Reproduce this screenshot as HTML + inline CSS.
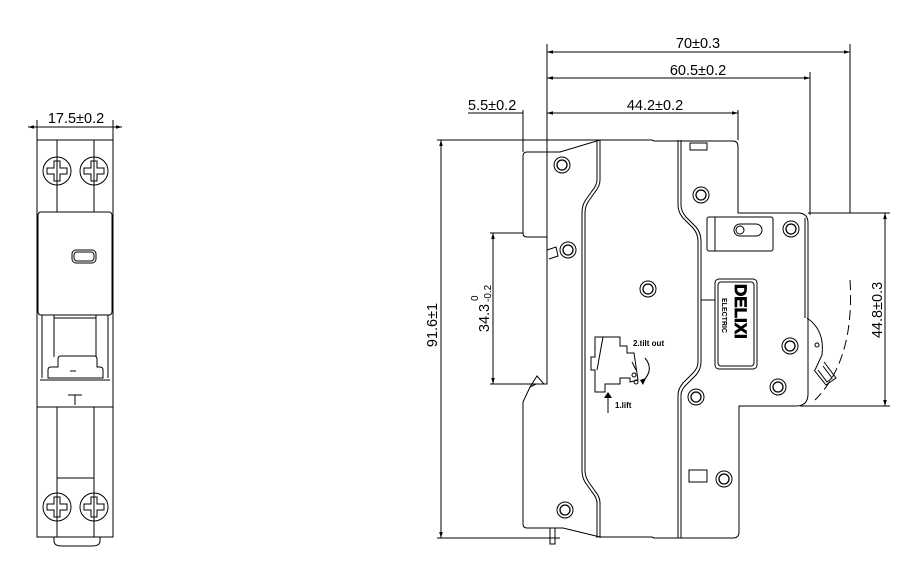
<!DOCTYPE html><html><head><style>body{margin:0;background:#fff}svg{display:block}text{font-family:"Liberation Sans",Arial,sans-serif;fill:#000}</style></head><body>
<svg width="919" height="572" viewBox="0 0 919 572" xmlns="http://www.w3.org/2000/svg">
<defs><marker id="a" viewBox="0 0 10 10" refX="10" refY="5" markerWidth="8" markerHeight="6" orient="auto-start-reverse"><path d="M0,2 L10,5 L0,8z" fill="#000"/></marker>
<g id="scr"><circle r="14" fill="none" stroke="#000" stroke-width="1"/><path d="M-3,-10 h6 v7 h7 v6 h-7 v7 h-6 v-7 h-7 v-6 h7z" fill="none" stroke="#000" stroke-width="1"/></g>
<g id="c"><circle r="8" fill="none" stroke="#000" stroke-width="1"/><circle r="5" fill="none" stroke="#000" stroke-width="1.3"/></g></defs>
<g fill="none" stroke="#000" stroke-width="1">
<line x1="37" y1="120" x2="37" y2="140"/><line x1="113" y1="120" x2="113" y2="140"/>
<line x1="28" y1="127" x2="122" y2="127" marker-start="url(#a)" marker-end="url(#a)"/>
<rect x="37" y="140" width="76" height="397"/>
<line x1="57" y1="140" x2="57" y2="212"/><line x1="94" y1="140" x2="94" y2="212"/>
<rect x="38" y="212" width="74" height="103" rx="3"/>
<rect x="72" y="250" width="24" height="13" rx="4"/><rect x="74" y="252" width="20" height="9" rx="3"/>
<line x1="42" y1="315" x2="42" y2="378"/><line x1="54" y1="315" x2="54" y2="357"/><line x1="96" y1="315" x2="96" y2="357"/><line x1="108" y1="315" x2="108" y2="378"/>
<line x1="54" y1="318" x2="96" y2="318"/>
<path d="M58,367 v-8 q0,-3 3,-3 h33 q3,0 3,3 v8 h3 q3,0 3,3 v8 h-55 v-8 q0,-3 3,-3z"/>
<line x1="70" y1="371" x2="76" y2="371"/>
<line x1="40" y1="380" x2="110" y2="380"/>
<path d="M68,395 h14 M75,395 v10"/>
<line x1="37" y1="407" x2="113" y2="407"/>
<line x1="57" y1="407" x2="57" y2="537"/><line x1="94" y1="407" x2="94" y2="537"/>
<line x1="57" y1="478" x2="94" y2="478"/>
<path d="M54,537 v4 q0,5 8,5 h30 q8,0 8,-5 v-4"/>
</g>
<use href="#scr" x="57" y="171"/><use href="#scr" x="94" y="171"/>
<use href="#scr" x="57" y="507"/><use href="#scr" x="94" y="507"/>
<text x="76" y="123" font-size="14.5" text-anchor="middle">17.5±0.2</text>
<g fill="none" stroke="#000" stroke-width="1">
<line x1="547" y1="44" x2="547" y2="237"/><line x1="850" y1="44" x2="850" y2="213"/>
<line x1="547" y1="52" x2="850" y2="52" marker-start="url(#a)" marker-end="url(#a)"/>
<line x1="810" y1="72" x2="810" y2="215"/>
<line x1="547" y1="78" x2="810" y2="78" marker-start="url(#a)" marker-end="url(#a)"/>
<line x1="738" y1="110" x2="738" y2="140"/>
<line x1="547" y1="113" x2="738" y2="113" marker-start="url(#a)" marker-end="url(#a)"/>
<line x1="468" y1="113" x2="523" y2="113"/><line x1="523" y1="110" x2="523" y2="152"/>
<line x1="437" y1="140" x2="600" y2="140"/><line x1="437" y1="538" x2="560" y2="538"/>
<line x1="441" y1="140" x2="441" y2="538" marker-start="url(#a)" marker-end="url(#a)"/>
<line x1="490" y1="233" x2="523" y2="233"/><line x1="490" y1="384" x2="547" y2="384"/>
<line x1="493" y1="233" x2="493" y2="384" marker-start="url(#a)" marker-end="url(#a)"/>
<line x1="808" y1="213" x2="890" y2="213"/><line x1="800" y1="406" x2="890" y2="406"/>
<line x1="885" y1="213" x2="885" y2="406" marker-start="url(#a)" marker-end="url(#a)"/>
<path d="M600,140 H652 L654,141 H733 Q738,141 738,147 V213 H798 Q808,213 808,223 V394 Q808,406 796,406 H739 V532 Q739,538 733,538 H654 L652,537 H600 L563,528 H527 Q523,528 523,524 V402 L530,387 L537,376 L544,384 H547 V237 H527 Q523,237 523,233 V156 Q523,152 527,152 H560 Z"/>
<path d="M547,250 L556,247 L558,256 L549,259"/>
<path d="M547,237 V384"/>
<path d="M530,387 L536,384 L544,384"/>
<path d="M550,528 v16 h5 v-16"/>
<path d="M600,140 V180 Q600,186 595,192 L588,202 Q585,207 585,213 V470 Q585,476 588,481 L595,491 Q600,497 600,503 V538"/>
<path d="M597,140 V180 Q597,185 592,191 L585,201 Q582,206 582,213 V470 Q582,477 585,482 L592,492 Q597,498 597,503 V538"/>
<path d="M678,140 V205 Q678,212 683,218 L693,228 Q698,234 698,241 V362 Q698,368 693,373 L683,383 Q678,389 678,395 V538"/>
<path d="M681,140 V205 Q681,211 686,217 L696,227 Q701,233 701,241 V362 Q701,369 696,375 L686,385 Q681,390 681,395 V538"/>
<line x1="701" y1="300" x2="715" y2="300"/>
<line x1="805" y1="218" x2="805" y2="318"/>
<rect x="690" y="143" width="17" height="7"/><rect x="689" y="470" width="18" height="12"/>
<rect x="707" y="217" width="66" height="34" rx="2"/><line x1="715" y1="217" x2="715" y2="251"/>
<rect x="734" y="224" width="28" height="12" rx="6"/><circle cx="740" cy="230" r="4"/>
<rect x="715" y="279" width="42" height="90" rx="4"/><rect x="718" y="282" width="36" height="84" rx="3"/>
<path d="M807,318 Q825,330 822,355 L815,370"/>
<circle cx="817" cy="345" r="2"/>
<path d="M814,370 L826,385 L836,378 L824,362"/><path d="M818,370 L827,382 L832,378 L823,366"/>
<path d="M850,280 Q855,360 815,400" stroke-dasharray="10,5"/>
<path d="M595,337 H620 V346 H627 V353 H634 L638,380 L630,382 V378 H620 V384 H605 V392 H595 V370 H591 V357 H595 Z"/>
<path d="M603,337 L597,370 M632,362 L636,370"/>
<circle cx="634" cy="375" r="2"/><circle cx="636" cy="382" r="2"/>
<path d="M645,358 Q655,370 642,382"/>
<line x1="608" y1="413" x2="608" y2="398"/>
</g>
<path d="M604,398 L608,392 L612,398z"/><path d="M640,380 L646,378 L643,385z"/>
<g><use href="#c" x="562" y="165"/><use href="#c" x="568" y="250"/><use href="#c" x="701" y="195"/><use href="#c" x="791" y="229"/><use href="#c" x="648" y="289"/><use href="#c" x="790" y="346"/><use href="#c" x="778" y="387"/><use href="#c" x="696" y="397"/><use href="#c" x="724" y="479"/><use href="#c" x="565" y="510"/></g>
<text x="698" y="48" font-size="14.5" text-anchor="middle">70±0.3</text>
<text x="698" y="75" font-size="14.5" text-anchor="middle">60.5±0.2</text>
<text x="655" y="110" font-size="14.5" text-anchor="middle">44.2±0.2</text>
<text x="468" y="110" font-size="14.5">5.5±0.2</text>
<text transform="translate(437,325) rotate(-90)" font-size="14.5" text-anchor="middle">91.6±1</text>
<text transform="translate(489,318) rotate(-90)" font-size="14.5" text-anchor="middle">34.3</text>
<text transform="translate(478,301) rotate(-90)" font-size="10" text-anchor="start">0</text>
<text transform="translate(491,302) rotate(-90)" font-size="10" text-anchor="start">-0.2</text>
<text transform="translate(882,310) rotate(-90)" font-size="14.5" text-anchor="middle">44.8±0.3</text>
<text x="633" y="346" font-size="8" font-weight="bold">2.tilt out</text>
<text x="615" y="408" font-size="8" font-weight="bold">1.lift</text>
<text transform="translate(735,284) rotate(90)" font-size="17" font-weight="bold" fill="none" stroke="#000" stroke-width="0.8">DELIXI</text>
<text transform="translate(722,298) rotate(90)" font-size="7" font-weight="bold">ELECTRIC</text>
</svg></body></html>
